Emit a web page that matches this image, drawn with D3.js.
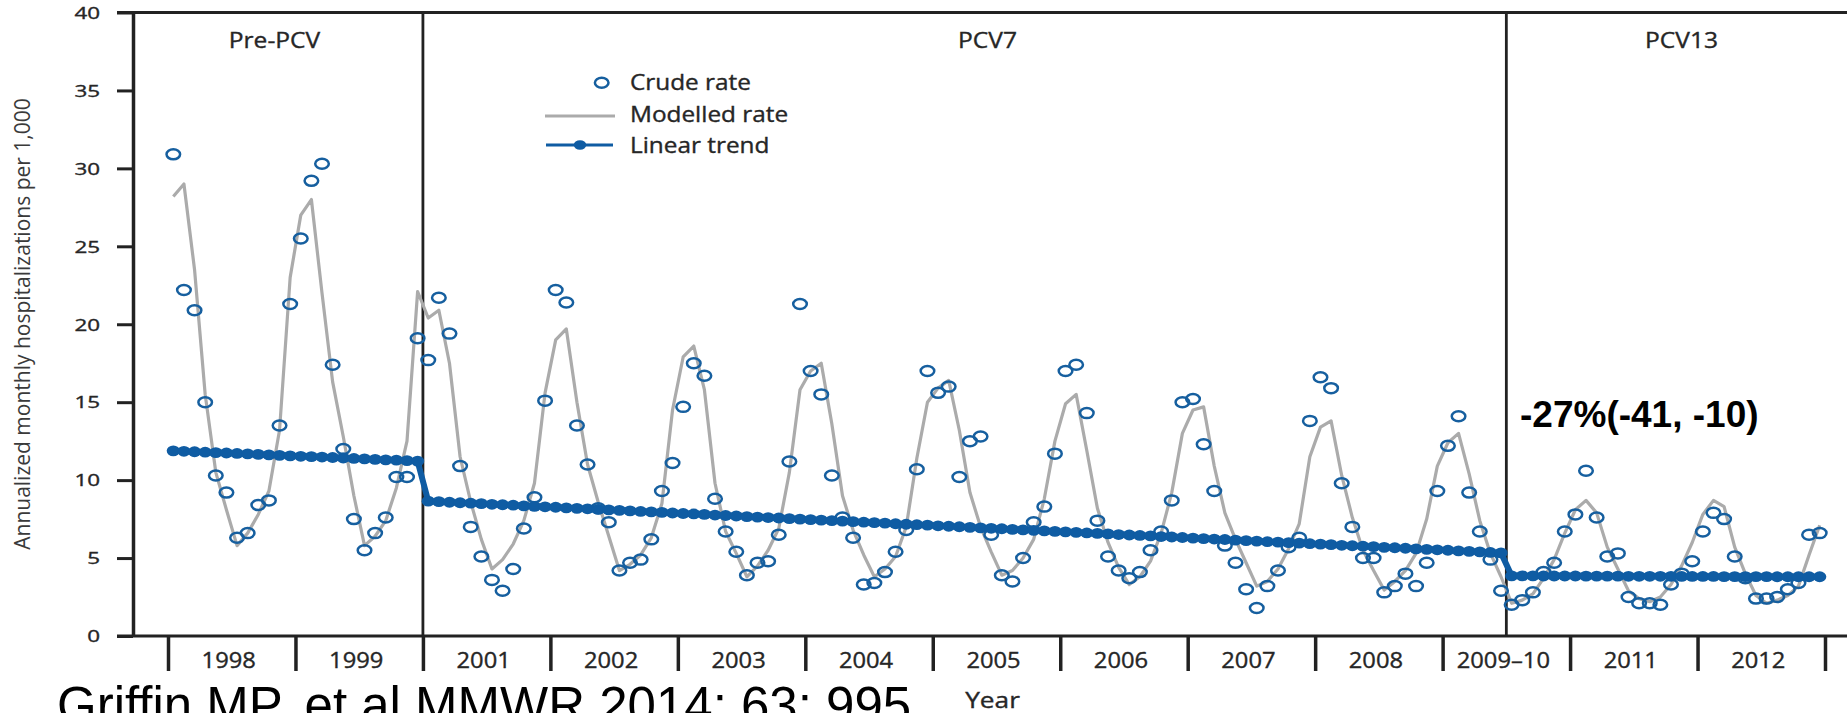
<!DOCTYPE html>
<html>
<head>
<meta charset="utf-8">
<script src="https://cdn.jsdelivr.net/npm/d3@7"></script>
<style>
  html, body { margin: 0; padding: 0; background: #fff; }
  svg { display: block; }
</style>
</head>
<body>
<svg id="chart" width="1847" height="713"></svg>
<script>
// ---- data -------------------------------------------------------------
const yearLabels = ["1998", "1999", "2001", "2002", "2003", "2004", "2005",
                    "2006", "2007", "2008", "2009\u201310", "2011", "2012"];
const periodNames = ["Pre-PCV", "PCV7", "PCV13"];
const periodStart = [0, 24, 126];          // first month index of each period
const yTicks = [0, 5, 10, 15, 20, 25, 30, 35, 40];
const legendLabels = ["Crude rate", "Modelled rate", "Linear trend"];
const changeLabel = "-27%(-41, -10)";
const sourceNote = "Griffin MP, et al MMWR 2014; 63; 995";

// annualized monthly hospitalizations per 1,000, one value per month
const crudeRate = [
  30.9, 22.2, 20.9, 15.0, 10.3, 9.2, 6.3, 6.6, 8.4, 8.7, 13.5, 21.3,
  25.5, 29.2, 30.3, 17.4, 12.0, 7.5, 5.5, 6.6, 7.6, 10.2, 10.2, 19.1,
  17.7, 21.7, 19.4, 10.9, 7.0, 5.1, 3.6, 2.9, 4.3, 6.9, 8.9, 15.1,
  22.2, 21.4, 13.5, 11.0, 8.2, 7.3, 4.2, 4.7, 4.9, 6.2, 9.3, 11.1,
  14.7, 17.5, 16.7, 8.8, 6.7, 5.4, 3.9, 4.7, 4.8, 6.5, 11.2, 21.3,
  17.0, 15.5, 10.3, 7.6, 6.3, 3.3, 3.4, 4.1, 5.4, 6.8, 10.7, 17.0,
  15.6, 16.0, 10.2, 12.5, 12.8, 6.5, 3.9, 3.5, 5.0, 7.3, 8.3, 11.7,
  17.0, 17.4, 14.3, 7.4, 5.1, 4.2, 3.7, 4.1, 5.5, 6.7, 8.7, 15.0,
  15.2, 12.3, 9.3, 5.8, 4.7, 3.0, 1.8, 3.2, 4.2, 5.7, 6.3, 13.8,
  16.6, 15.9, 9.8, 7.0, 5.0, 5.0, 2.8, 3.2, 4.0, 3.2, 4.7, 9.3,
  12.2, 14.1, 9.2, 6.7, 4.9, 2.9,
  2.0, 2.3, 2.8, 4.1, 4.7, 6.7, 7.8, 10.6, 7.6, 5.1, 5.3, 2.5,
  2.1, 2.1, 2.0, 3.3, 4.0, 4.8, 6.7, 7.9, 7.5, 5.1, 3.7, 2.4,
  2.4, 2.5, 3.0, 3.4, 6.5, 6.6
];

const modelledRate = [
  28.2, 29.0, 23.5, 15.5, 10.5, 8.1, 5.8, 6.6, 7.8, 9.3, 13.2, 23.0,
  27.0, 28.0, 22.0, 16.3, 12.8, 9.0, 5.8, 6.4, 7.4, 9.5, 12.5, 22.1,
  20.4, 20.9, 17.5, 11.5, 8.6, 6.2, 4.3, 4.9, 5.9, 7.4, 9.8, 15.6,
  19.0, 19.7, 15.0, 11.0, 8.6, 6.4, 4.2, 4.6, 5.2, 6.3, 8.5, 14.5,
  17.9, 18.6, 15.8, 9.8, 6.7, 5.3, 3.8, 4.5, 5.5, 6.9, 10.5, 15.8,
  17.0, 17.5, 13.6, 9.0, 6.8, 5.2, 3.8, 4.3, 5.1, 7.0, 11.4, 15.0,
  15.9, 16.4, 13.2, 9.2, 7.0, 5.4, 3.9, 4.2, 5.0, 6.2, 8.8, 12.5,
  14.9, 15.5, 11.9, 8.2, 6.0, 4.4, 3.3, 3.8, 4.8, 6.6, 9.2, 13.0,
  14.5, 14.7, 10.9, 7.9, 6.2, 4.7, 3.2, 3.5, 4.3, 5.6, 7.2, 11.5,
  13.4, 13.8, 10.3, 7.6, 5.5, 4.2, 2.95, 3.5, 4.2, 5.3, 7.5, 10.9,
  12.4, 13.0, 10.4, 7.4, 5.3, 3.8,
  2.1, 2.3, 2.7, 3.7, 4.9, 6.6, 8.1, 8.7, 7.9, 5.7, 4.3, 2.9,
  2.4, 2.2, 2.5, 3.3, 4.5, 6.0, 7.8, 8.7, 8.3, 5.7, 4.0, 2.6,
  2.1, 2.3, 2.6, 3.2, 5.2, 7.1
];

const linearTrend = [
  11.88, 11.85, 11.82, 11.79, 11.76, 11.74, 11.71, 11.68, 11.65, 11.62, 11.59, 11.56,
  11.53, 11.51, 11.48, 11.45, 11.42, 11.39, 11.36, 11.33, 11.30, 11.28, 11.25, 11.22,
  8.65, 8.62, 8.58, 8.55, 8.52, 8.49, 8.45, 8.42, 8.39, 8.35, 8.32, 8.29,
  8.26, 8.22, 8.19, 8.16, 8.12, 8.09, 8.06, 8.03, 7.99, 7.96, 7.93, 7.89,
  7.86, 7.83, 7.80, 7.76, 7.73, 7.70, 7.66, 7.63, 7.60, 7.57, 7.53, 7.50,
  7.47, 7.43, 7.40, 7.37, 7.34, 7.30, 7.27, 7.24, 7.20, 7.17, 7.14, 7.11,
  7.07, 7.04, 7.01, 6.97, 6.94, 6.91, 6.88, 6.84, 6.81, 6.78, 6.74, 6.71,
  6.68, 6.65, 6.61, 6.58, 6.55, 6.51, 6.48, 6.45, 6.42, 6.38, 6.35, 6.32,
  6.28, 6.25, 6.22, 6.19, 6.15, 6.12, 6.09, 6.05, 6.02, 5.99, 5.96, 5.92,
  5.89, 5.86, 5.82, 5.79, 5.76, 5.73, 5.69, 5.66, 5.63, 5.59, 5.56, 5.53,
  5.50, 5.46, 5.43, 5.40, 5.36, 5.33,
  3.86, 3.86, 3.86, 3.85, 3.85, 3.85, 3.85, 3.84, 3.84, 3.84, 3.84, 3.83,
  3.83, 3.83, 3.83, 3.83, 3.82, 3.82, 3.82, 3.82, 3.81, 3.81, 3.81, 3.81,
  3.81, 3.80, 3.80, 3.80, 3.80, 3.80
];

// ---- layout & styles --------------------------------------------------
const FONT = "'Open Sans', 'DejaVu Sans', sans-serif";
const ARIAL = "'Liberation Sans', Arial, sans-serif";
const INK = "#222";
const TEXT = "#262626";
const BLUE = "#165f9f";
const TREND = "#0f5ca3";
const GREY = "#ababab";

const svg = d3.select("#chart");
svg.append("rect").attr("width", 1847).attr("height", 713).attr("fill", "#fff");

const nMonths = crudeRate.length;
const x = d3.scaleLinear().domain([0, nMonths]).range([168, 1825]);
const y = d3.scaleLinear().domain([0, 40]).range([636, 12.5]);
const mx = i => x(i + 0.5);          // centre of month i

// slightly heavier label text
const heavy = sel => sel.attr("stroke", TEXT).attr("stroke-width", 0.35);

// ---- frame ------------------------------------------------------------
// top rule and baseline run from the tick stubs to the right edge
svg.append("line").attr("x1", 117).attr("x2", 1847)
  .attr("y1", y(40)).attr("y2", y(40))
  .attr("stroke", INK).attr("stroke-width", 3);
svg.append("line").attr("x1", 117).attr("x2", 1847)
  .attr("y1", y(0)).attr("y2", y(0))
  .attr("stroke", INK).attr("stroke-width", 3);

// y axis
const yAxis = svg.append("g")
  .attr("transform", "translate(133,0)")
  .call(d3.axisLeft(y).tickValues(yTicks).tickSizeInner(16).tickSizeOuter(0).tickPadding(0));
yAxis.attr("font-family", FONT).attr("font-size", 16);
yAxis.select(".domain").attr("stroke", INK).attr("stroke-width", 3.5);
yAxis.selectAll(".tick line").attr("stroke", INK).attr("stroke-width", 3);
yAxis.selectAll(".tick text")
  .attr("x", null).attr("dy", "0.36em")
  .attr("fill", TEXT)
  .attr("transform", "translate(-33,0) scale(1.4,1)")
  .call(heavy);

// x axis: tick marks at year boundaries, labels centred in each year
const xAxis = svg.append("g")
  .attr("transform", `translate(0,${y(0)})`)
  .call(d3.axisBottom(x)
    .tickValues(d3.range(0, nMonths + 1, 12))
    .tickSizeInner(35).tickSizeOuter(0).tickFormat(""));
xAxis.select(".domain").remove();
xAxis.selectAll(".tick line").attr("stroke", INK).attr("stroke-width", 3.5);

svg.append("g").selectAll("text")
  .data(yearLabels)
  .join("text")
  .attr("transform", (d, i) => `translate(${x(i * 12 + 6) - 3},668) scale(1.13,1)`)
  .attr("text-anchor", "middle")
  .attr("font-family", FONT).attr("font-size", 21)
  .attr("fill", TEXT)
  .text(d => d)
  .call(heavy);

// period dividers
svg.append("g").selectAll("line")
  .data(periodStart.slice(1))
  .join("line")
  .attr("x1", d => x(d)).attr("x2", d => x(d))
  .attr("y1", y(40)).attr("y2", y(0))
  .attr("stroke", INK).attr("stroke-width", 2.8);

// period names
const periodLabelX = [274.5, 987.5, 1681.5];
svg.append("g").selectAll("text")
  .data(periodNames)
  .join("text")
  .attr("transform", (d, i) => `translate(${periodLabelX[i]},48) scale(1.17,1)`)
  .attr("text-anchor", "middle")
  .attr("font-family", FONT).attr("font-size", 21)
  .attr("fill", TEXT)
  .text(d => d)
  .call(heavy);

// axis titles
svg.append("text")
  .attr("transform", "translate(29.5,324) rotate(-90)")
  .attr("text-anchor", "middle")
  .attr("font-family", FONT).attr("font-size", 21)
  .attr("fill", "#3a3a3a")
  .text("Annualized monthly hospitalizations per 1,000");

svg.append("text")
  .attr("transform", "translate(992.5,708) scale(1.25,1)")
  .attr("text-anchor", "middle")
  .attr("font-family", FONT).attr("font-size", 21)
  .attr("fill", TEXT)
  .text("Year")
  .call(heavy);

// ---- series -----------------------------------------------------------
// modelled rate
svg.append("path")
  .datum(modelledRate)
  .attr("fill", "none")
  .attr("stroke", GREY).attr("stroke-width", 3.2)
  .attr("stroke-linejoin", "round")
  .attr("d", d3.line().x((d, i) => mx(i)).y(d => y(d)));

// crude rate
svg.append("g").selectAll("ellipse")
  .data(crudeRate)
  .join("ellipse")
  .attr("cx", (d, i) => mx(i)).attr("cy", d => y(d))
  .attr("rx", 6.8).attr("ry", 5)
  .attr("fill", "none")
  .attr("stroke", BLUE).attr("stroke-width", 2.5);

// linear trend: line with a marker on every month
svg.append("path")
  .datum(linearTrend)
  .attr("fill", "none")
  .attr("stroke", TREND).attr("stroke-width", 6)
  .attr("d", d3.line().x((d, i) => mx(i)).y(d => y(d)));
svg.append("g").selectAll("ellipse")
  .data(linearTrend)
  .join("ellipse")
  .attr("cx", (d, i) => mx(i)).attr("cy", d => y(d))
  .attr("rx", 6.6).attr("ry", 5.4)
  .attr("fill", TREND);

// ---- legend -----------------------------------------------------------
const legend = svg.append("g");
legend.append("ellipse")
  .attr("cx", 601.7).attr("cy", 82.7).attr("rx", 6.8).attr("ry", 5)
  .attr("fill", "none").attr("stroke", BLUE).attr("stroke-width", 2.5);
legend.append("line")
  .attr("x1", 545).attr("x2", 615).attr("y1", 116).attr("y2", 116)
  .attr("stroke", GREY).attr("stroke-width", 3.2);
legend.append("line")
  .attr("x1", 546).attr("x2", 613).attr("y1", 145).attr("y2", 145)
  .attr("stroke", TREND).attr("stroke-width", 3);
legend.append("ellipse")
  .attr("cx", 580).attr("cy", 145).attr("rx", 6.2).attr("ry", 4.8)
  .attr("fill", TREND);
const legendY = [90, 121.7, 152.7];
legend.selectAll("text")
  .data(legendLabels)
  .join("text")
  .attr("transform", (d, i) => `translate(630,${legendY[i]}) scale(1.16,1)`)
  .attr("font-family", FONT).attr("font-size", 21)
  .attr("fill", TEXT)
  .text(d => d)
  .call(heavy);

// ---- annotations ------------------------------------------------------
svg.append("text")
  .attr("x", 1520).attr("y", 427)
  .attr("font-family", ARIAL).attr("font-size", 37).attr("font-weight", "bold")
  .attr("fill", "#000")
  .text(changeLabel);

svg.append("text")
  .attr("x", 57).attr("y", 723)
  .attr("font-family", ARIAL).attr("font-size", 51)
  .attr("fill", "#000")
  .text(sourceNote);
</script>
</body>
</html>
